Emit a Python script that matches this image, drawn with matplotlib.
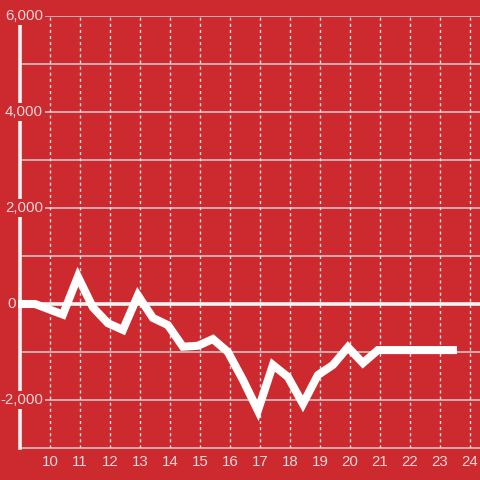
import matplotlib
matplotlib.use("Agg")
import matplotlib.pyplot as plt
import matplotlib.transforms as mtransforms

# series
hours = [9.0, 9.5, 10.43, 10.93, 11.43, 11.93, 12.43, 12.93, 13.43, 13.93,
         14.43, 14.93, 15.43, 15.93, 16.43, 16.93, 17.43, 17.93, 18.43, 18.93,
         19.43, 19.93, 20.43, 20.93, 21.43, 21.93, 22.43, 22.93, 23.43]
values = [0, 0, -220, 570, -70, -400, -540, 180, -290, -440,
          -890, -870, -730, -1000, -1580, -2220, -1270, -1520, -2080, -1480,
          -1270, -900, -1230, -960, -960, -960, -960, -960, -960]

xticks = list(range(10, 25))
yticks = [-2000, 0, 2000, 4000, 6000]
ylabels = ["-2,000", "0", "2,000", "4,000", "6,000"]
ygrid = [-2000, -1000, 1000, 2000, 3000, 4000, 5000, 6000]

bg = "#cc2a2f"
txt = "#f3d6d6"
grid = "#d0d0d0"

plt.rcParams['font.family'] = ['Liberation Sans', 'DejaVu Sans']

fig = plt.figure(figsize=(4.8, 4.8), dpi=100, facecolor=bg)
ax = fig.add_axes([20/480, 32/480, 460/480, 432/480], facecolor=bg)
ax.set_xlim(9, 24.333)
ax.set_ylim(-3000, 6000)

# grid
for g in ygrid:
    ax.axhline(g, color=grid, lw=1.1, zorder=1)
for t in xticks:
    ax.axvline(t, color="#e0e0e0", lw=1.0, ls=(0, (2.2, 2.2)), zorder=1)

ax.axhline(0, color="#f4f4f4", lw=2.6, zorder=3)

ax.plot(hours, values, color="white", lw=5.8, solid_capstyle="projecting",
        solid_joinstyle="miter", zorder=4, clip_on=False)

for s in ["top", "right"]:
    ax.spines[s].set_visible(False)
ax.spines["left"].set_color("#f4f4f4")
ax.spines["left"].set_linewidth(2.6)
ax.spines["left"].set_bounds(-3000, 5830)
ax.spines["left"].set_zorder(3)
ax.spines["bottom"].set_color(grid)
ax.spines["bottom"].set_linewidth(1.1)

ax.set_xticks(xticks)
ax.set_xticklabels([str(t) for t in xticks])
ax.tick_params(axis="x", length=0, pad=5, labelsize=10.8, labelcolor=txt)
ax.set_yticks([])

# y labels sit over the axis line with a red box behind them
base = mtransforms.blended_transform_factory(ax.transAxes, ax.transData)
for v, lab in zip(yticks, ylabels):
    dx = 23 if v != 0 else -4
    tr = mtransforms.offset_copy(base, fig=fig, x=dx, y=0, units="dots")
    ax.text(0, v, lab, transform=tr, ha="right", va="center", fontsize=10.8,
            color=txt, zorder=5, clip_on=False,
            bbox=dict(boxstyle="square,pad=0.15", fc=bg, ec="none"))

fig.savefig("out.png", dpi=100, facecolor=bg)
